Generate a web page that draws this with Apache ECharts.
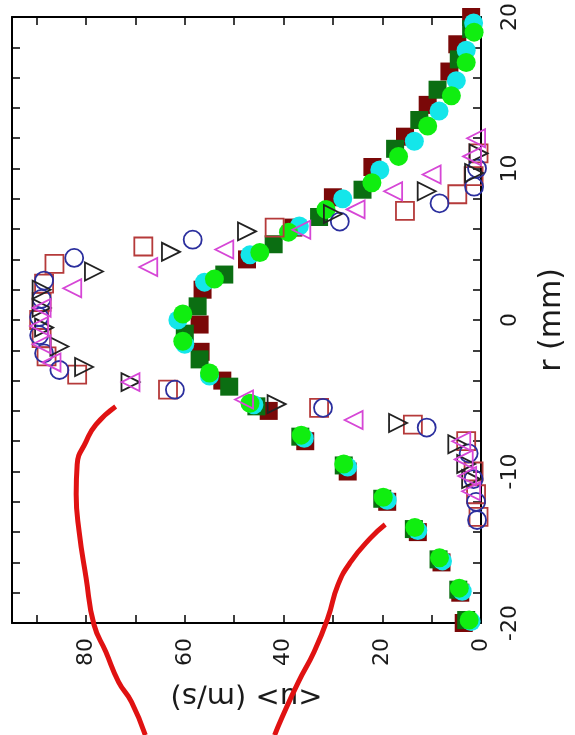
<!DOCTYPE html>
<html>
<head>
<meta charset="utf-8">
<script src="https://cdn.jsdelivr.net/npm/echarts@6/dist/echarts.min.js"></script>
<style>
html,body{margin:0;padding:0;background:#fff;}
#chart{width:575px;height:735px;}
</style>
</head>
<body>
<div id="chart"></div>
<script>
// ---- axis ticks ----
const rTicks = [-20, -10, 0, 10, 20];
const uTicks = [0, 20, 40, 60, 80];

// ---- open symbols (jet core profile) ----
const openSquareR = [-13.0, -11.5, -10.0, -8.0, -6.9, -5.8, -4.6, -3.6, -2.4, -1.2, 0.0, 1.2, 2.4, 3.7, 4.85, 6.1, 7.2, 8.3, 9.5, 11.0];
const openSquareU = [0.5, 1.0, 1.5, 3.0, 13.8, 32.8, 63.4, 81.8, 88.0, 89.0, 89.5, 89.0, 88.5, 86.4, 68.4, 41.8, 15.4, 4.8, 1.5, 0.5];

const openCircleR = [-13.2, -12.0, -10.5, -8.8, -7.1, -5.8, -4.6, -3.3, -2.2, -1.0, 0.2, 1.4, 2.6, 4.1, 5.3, 6.5, 7.7, 8.8, 10.0];
const openCircleU = [0.8, 1.0, 1.5, 2.5, 11.0, 32.0, 62.0, 85.4, 88.5, 89.5, 89.5, 89.0, 88.5, 82.4, 58.4, 28.6, 8.4, 1.4, 0.8];

const openTriRightR = [-10.5, -9.5, -8.2, -6.8, -5.55, -4.1, -3.1, -1.75, -0.5, 0.8, 2.0, 3.2, 4.5, 5.85, 7.0, 8.5, 9.7, 11.0];
const openTriRightU = [2.0, 3.0, 4.8, 16.8, 41.4, 71.0, 80.4, 85.4, 88.5, 89.0, 89.0, 78.4, 62.8, 47.4, 30.0, 11.0, 1.4, 0.5];

const openTriLeftR = [-11.3, -10.3, -9.2, -8.0, -6.6, -5.25, -4.1, -2.8, -1.6, -0.4, 0.8, 2.1, 3.5, 4.65, 5.96, 7.3, 8.5, 9.6, 10.8, 12.0];
const openTriLeftU = [2.0, 2.8, 3.5, 4.0, 25.8, 48.0, 71.0, 87.0, 89.0, 89.5, 89.0, 82.8, 67.4, 52.0, 36.4, 25.4, 17.8, 10.0, 1.8, 1.0];

// ---- filled symbols (wide profile) ----
const darkRedR = [-20.0, -18.0, -16.0, -14.0, -12.0, -10.0, -8.0, -6.0, -4.0, -2.1, -0.3, 2.0, 4.0, 6.1, 8.1, 10.1, 12.1, 14.2, 16.4, 18.2, 20.0];
const darkRedU = [3.5, 4.2, 8.0, 12.8, 19.0, 27.0, 35.6, 43.0, 52.4, 56.8, 57.0, 56.4, 47.4, 38.0, 30.0, 22.0, 15.4, 10.8, 6.4, 4.8, 2.0];

const darkGreenR = [-19.8, -17.8, -15.8, -13.8, -11.8, -9.6, -7.7, -5.7, -4.4, -2.6, -0.9, 0.9, 3.0, 5.0, 6.8, 8.6, 11.3, 13.2, 15.2, 17.2, 19.2];
const darkGreenU = [3.0, 4.6, 8.6, 13.6, 20.0, 27.8, 36.6, 45.5, 51.0, 57.0, 60.0, 57.4, 52.0, 42.0, 32.8, 24.0, 17.4, 12.5, 8.8, 4.5, 2.0];

const cyanR = [-19.9, -17.9, -15.9, -13.9, -11.9, -9.7, -7.8, -5.6, -3.7, -1.6, 0.0, 2.5, 4.3, 6.2, 8.0, 9.9, 11.8, 13.8, 15.8, 17.8, 19.6];
const cyanU = [2.0, 3.8, 7.8, 12.8, 19.0, 27.0, 35.8, 46.0, 55.0, 60.0, 61.4, 56.0, 46.8, 36.8, 28.0, 20.5, 13.5, 8.5, 5.0, 3.0, 1.5];

const greenR = [-19.8, -17.7, -15.7, -13.7, -11.7, -9.5, -7.6, -5.5, -3.5, -1.4, 0.4, 2.7, 4.45, 5.8, 7.3, 9.06, 10.8, 12.8, 14.8, 17.0, 19.0];
const greenU = [2.4, 4.4, 8.4, 13.4, 19.8, 27.8, 36.4, 46.8, 55.0, 60.4, 60.4, 54.0, 44.8, 39.0, 31.4, 22.1, 16.7, 10.8, 6.0, 3.0, 1.4];

// ---- hand-drawn red annotation strokes ----
const stroke1R = [-5.71, -6.9, -8.03, -9.54, -11.5, -13.97, -17.0, -20.1, -21.9, -23.9, -25.2, -27.4];
const stroke1U = [74.0, 78.0, 80.0, 81.8, 82.0, 81.4, 80.0, 78.4, 76.0, 73.4, 70.8, 68.0];
const stroke2R = [-13.5, -14.4, -15.97, -17.5, -19.65, -21.9, -23.9, -26.3, -27.4];
const stroke2U = [19.4, 22.4, 26.4, 29.0, 31.0, 33.8, 37.0, 40.4, 41.8];

const pairs = (u, r) => u.map((v, i) => [v, r[i]]);

const FONT = 'DejaVu Sans';
const TXT = '#1a1a1a';

const uAxisBase = {
  type: 'value', inverse: true, min: 0, max: 95, interval: 10,
  axisLine: {show: true, onZero: false, lineStyle: {color: '#000', width: 2}},
  axisTick: {show: true, inside: true, length: 8, lineStyle: {color: '#000', width: 1.5}},
  splitLine: {show: false}
};
const rAxisBase = {
  type: 'value', min: -20, max: 20, interval: 2,
  axisLine: {show: true, onZero: false, lineStyle: {color: '#000', width: 2}},
  axisTick: {show: true, inside: true, length: 8, lineStyle: {color: '#000', width: 1.5}},
  splitLine: {show: false}
};

const openStyle = (c) => ({color: 'transparent', borderColor: c, borderWidth: 1.8, opacity: 1});

const option = {
  animation: false,
  backgroundColor: '#fff',
  grid: {left: 12, right: 88, top: 17, bottom: 112, containLabel: false},
  xAxis: [
    Object.assign({}, uAxisBase, {
      position: 'bottom',
      name: '<u> (m/s)', nameLocation: 'middle', nameGap: 58, nameRotate: 180,
      nameTextStyle: {fontFamily: FONT, fontSize: 29, color: TXT},
      axisLabel: {show: true, rotate: 90, margin: 15, fontFamily: FONT, fontSize: 22, color: TXT,
        formatter: (v) => (uTicks.indexOf(v) >= 0 ? String(v) : '')}
    }),
    Object.assign({}, uAxisBase, {position: 'top', axisLabel: {show: false}})
  ],
  yAxis: [
    Object.assign({}, rAxisBase, {
      position: 'right',
      name: 'r (mm)', nameLocation: 'middle', nameGap: 56, nameRotate: 90,
      nameTextStyle: {fontFamily: FONT, fontSize: 30, color: TXT},
      axisLabel: {show: true, rotate: 90, margin: 18, fontFamily: FONT, fontSize: 22, color: TXT,
        formatter: (v) => (rTicks.indexOf(v) >= 0 ? String(v) : '')}
    }),
    Object.assign({}, rAxisBase, {position: 'left', axisLabel: {show: false}})
  ],
  series: [
    {type: 'scatter', symbol: 'rect', symbolSize: 18, data: pairs(darkRedU, darkRedR),
      itemStyle: {color: '#7a0808', opacity: 1}},
    {type: 'scatter', symbol: 'rect', symbolSize: 18, data: pairs(darkGreenU, darkGreenR),
      itemStyle: {color: '#0b6e12', opacity: 1}},
    {type: 'scatter', symbol: 'circle', symbolSize: 19, data: pairs(cyanU, cyanR),
      itemStyle: {color: '#14e6ea', opacity: 1}},
    {type: 'scatter', symbol: 'circle', symbolSize: 19, data: pairs(greenU, greenR),
      itemStyle: {color: '#10ee10', opacity: 1}},
    {type: 'scatter', symbol: 'rect', symbolSize: 18, data: pairs(openSquareU, openSquareR),
      itemStyle: openStyle('#b53a3a')},
    {type: 'scatter', symbol: 'circle', symbolSize: 18, data: pairs(openCircleU, openCircleR),
      itemStyle: openStyle('#2b2f9e')},
    {type: 'scatter', symbol: 'triangle', symbolSize: 18, symbolRotate: -90, data: pairs(openTriRightU, openTriRightR),
      itemStyle: openStyle('#222222')},
    {type: 'scatter', symbol: 'triangle', symbolSize: 18, symbolRotate: 90, data: pairs(openTriLeftU, openTriLeftR),
      itemStyle: openStyle('#d646d6')},
    {type: 'line', data: pairs(stroke1U, stroke1R), showSymbol: false, symbol: 'none', smooth: true, clip: false,
      lineStyle: {color: '#e01212', width: 5}},
    {type: 'line', data: pairs(stroke2U, stroke2R), showSymbol: false, symbol: 'none', smooth: true, clip: false,
      lineStyle: {color: '#e01212', width: 5}}
  ]
};

const chart = echarts.init(document.getElementById('chart'), null, {renderer: 'canvas'});
chart.setOption(option);
</script>
</body>
</html>
